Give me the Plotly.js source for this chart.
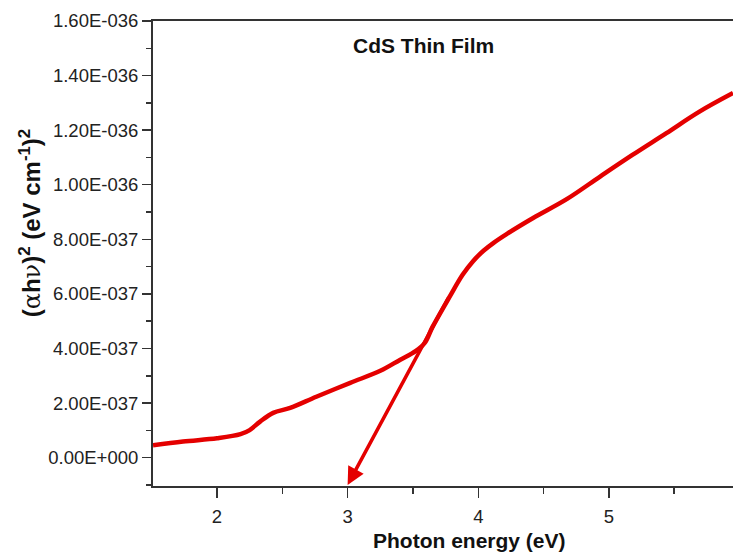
<!DOCTYPE html>
<html>
<head>
<meta charset="utf-8">
<script src="https://cdn.plot.ly/plotly-3.0.1.min.js"></script>
<style>html,body{margin:0;padding:0;background:#fff;}#chart{width:733px;height:552px;}</style>
</head>
<body>
<div id="chart"></div>
<script>
// Photon energy (eV)
const photonEnergy = [1.51, 1.74, 2.00, 2.18, 2.25, 2.33, 2.43, 2.56, 2.76, 3.02, 3.25, 3.40, 3.52, 3.59, 3.65, 3.78, 3.88, 3.96, 4.04, 4.12, 4.22, 4.42, 4.68, 4.93, 5.18, 5.44, 5.69, 5.95];
// (alpha h nu)^2 values
const alphaHv2 = [0.45e-37, 0.59e-37, 0.71e-37, 0.86e-37, 1.01e-37, 1.32e-37, 1.64e-37, 1.82e-37, 2.23e-37, 2.74e-37, 3.18e-37, 3.58e-37, 3.90e-37, 4.20e-37, 4.79e-37, 5.89e-37, 6.70e-37, 7.20e-37, 7.58e-37, 7.88e-37, 8.20e-37, 8.78e-37, 9.48e-37, 10.29e-37, 11.09e-37, 11.89e-37, 12.67e-37, 13.36e-37];
// Tangent (band-gap extrapolation) arrow: start and tip
const tangentStart = [3.775, 5.89e-37];
const tangentTip = [3.0, -1.0e-37];
// Y tick values / labels
const yTickVals = [0, 2e-37, 4e-37, 6e-37, 8e-37, 1.0e-36, 1.2e-36, 1.4e-36, 1.6e-36];
const yTickText = ["0.00E+000", "2.00E-037", "4.00E-037", "6.00E-037", "8.00E-037", "1.00E-036", "1.20E-036", "1.40E-036", "1.60E-036"];
const xTickVals = [2, 3, 4, 5];
const xTickText = ["2", "3", "4", "5"];

const FONT = "'Liberation Sans', Arial, sans-serif";
const RED = "rgb(228,0,0)";

const trace = {
  x: photonEnergy,
  y: alphaHv2,
  mode: "lines",
  line: {color: RED, width: 4.5, shape: "spline", smoothing: 1.0},
  hoverinfo: "skip",
  showlegend: false,
  cliponaxis: true
};

const layout = {
  width: 733, height: 552,
  margin: {l: 153, r: 0, t: 21, b: 66},
  paper_bgcolor: "#fff",
  plot_bgcolor: "#fff",
  showlegend: false,
  font: {family: FONT, color: "#222", size: 18},
  xaxis: {
    range: [1.51, 5.95],
    tickmode: "array", tickvals: xTickVals, ticktext: xTickText,
    ticks: "outside", ticklen: 10, tickwidth: 1.5, tickcolor: "#333",
    ticklabelstandoff: 3,
    minor: {ticks: "outside", ticklen: 6, tickwidth: 1.5, tickcolor: "#333", tick0: 1.5, dtick: 0.5},
    showline: true, linecolor: "#333", linewidth: 2, mirror: true,
    showgrid: false, zeroline: false,
    tickfont: {family: FONT, size: 18.5, color: "#222"}
  },
  yaxis: {
    range: [-1.04e-37, 1.6e-36],
    tickmode: "array", tickvals: yTickVals, ticktext: yTickText,
    ticks: "outside", ticklen: 9, tickwidth: 1.5, tickcolor: "#333",
    minor: {ticks: "outside", ticklen: 5, tickwidth: 1.5, tickcolor: "#333", tick0: 0, dtick: 1e-37},
    showline: true, linecolor: "#333", linewidth: 2, mirror: false,
    showgrid: false, zeroline: false,
    tickfont: {family: FONT, size: 18.5, color: "#222"}
  },
  annotations: [
    {
      xref: "x", yref: "y", axref: "x", ayref: "y",
      x: tangentTip[0], y: tangentTip[1],
      ax: tangentStart[0], ay: tangentStart[1],
      text: "", showarrow: true, arrowhead: 2, arrowsize: 1.0, arrowwidth: 3.5, arrowcolor: RED
    },
    {
      xref: "paper", yref: "paper", x: 0.467, y: 0.948, xanchor: "center", yanchor: "middle",
      text: "CdS Thin Film", showarrow: false,
      font: {family: FONT, size: 21, color: "#111", weight: 700}
    },
    {
      xref: "paper", yref: "paper", x: 0.545, y: -0.117, xanchor: "center", yanchor: "middle",
      text: "Photon energy (eV)", showarrow: false,
      font: {family: FONT, size: 21, color: "#111", weight: 700}
    },
    {
      xref: "paper", yref: "paper", x: -0.212, y: 0.565, xanchor: "center", yanchor: "middle",
      textangle: -90,
      text: "(<span style=\"font-family:'DejaVu Serif';font-weight:normal\">α</span>h<span style=\"font-family:'DejaVu Serif';font-weight:normal\">ν</span>)<sup>2</sup> (eV cm<sup>-1</sup>)<sup>2</sup>",
      showarrow: false,
      font: {family: FONT, size: 24, color: "#111", weight: 700}
    },
    {
      xref: "paper", yref: "paper", x: 1.012, y: -0.068, xanchor: "center", yanchor: "middle",
      text: "6", showarrow: false,
      font: {family: FONT, size: 18.5, color: "#222"}
    }
  ]
};

Plotly.newPlot("chart", [trace], layout, {staticPlot: true, displayModeBar: false});
</script>
</body>
</html>
